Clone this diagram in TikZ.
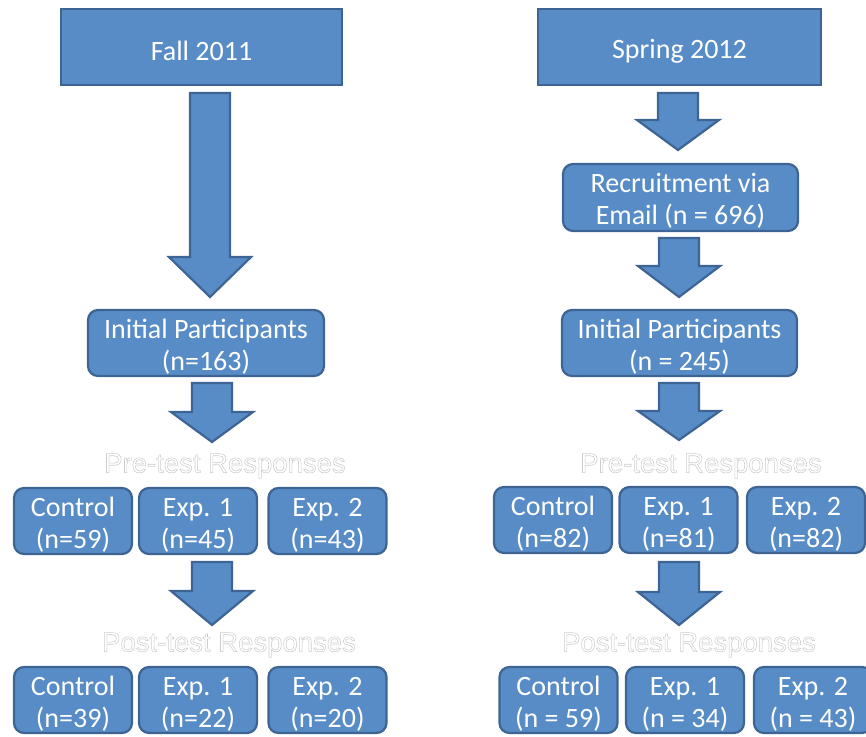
\documentclass[tikz,border=0pt]{standalone}
\usepackage{fontspec}
\setmainfont{Carlito}
\newfontfamily\labelfont{Liberation Sans}
\definecolor{boxblue}{RGB}{88,140,198}
\definecolor{boxedge}{RGB}{62,100,148}
% white letters with a thin grey outline
\newcommand{\hollowtext}[1]{\special{pdf:literal direct 2 Tr 0.55 w 0.8 0.8 0.8 RG}#1\special{pdf:literal direct 0 Tr}}
% block arrow: centre x, top, neck, tip
\newcommand{\blockarrow}[4]{\draw[arrowbody] (#1-20,#2) -- (#1+20,#2) -- (#1+20,#3) -- (#1+41,#3) -- (#1,#4) -- (#1-41,#3) -- (#1-20,#3) -- cycle;}
\begin{document}
\begin{tikzpicture}[x=1pt,y=-1pt,
  sqbox/.style={draw=boxedge,fill=boxblue,line width=2.2pt,inner sep=0pt,text=white,
    text height=28pt,font=\fontsize{28}{32}\selectfont},
  rbox/.style={sqbox,rounded corners=10pt,align=center,text height=58pt},
  groupbox/.style={rbox,minimum width=118,minimum height=66},
  arrowbody/.style={draw=boxedge,fill=boxblue,line width=2.2pt,line join=miter},
  phase/.style={text=white,font=\labelfont\fontsize{27.5}{30}\selectfont}]
\useasboundingbox (0,0) rectangle (866,736);

% Fall 2011
\node[sqbox,minimum width=281,minimum height=76] (fall) at (201.5,47) {Fall 2011};
\blockarrow{210}{93}{257}{297}
\node[rbox,minimum width=236,minimum height=66] (initL) at (206,343) {Initial Participants\\(n=163)};
\blockarrow{212}{383}{412}{442}
\node[phase] (preL) at (225,466) {\hollowtext{Pre-test Responses}};
\node[groupbox] (conL) at (73,521) {Control\\(n=59)};
\node[groupbox] (expaL) at (198,521) {Exp. 1\\(n=45)};
\node[groupbox] (expbL) at (327.5,521) {Exp. 2\\(n=43)};
\blockarrow{212}{562}{591}{625}
\node[phase] (postL) at (229,645) {\hollowtext{Post-test Responses}};
\node[groupbox] (conL2) at (73,700) {Control\\(n=39)};
\node[groupbox] (expaL2) at (198,700) {Exp. 1\\(n=22)};
\node[groupbox] (expbL2) at (327.5,700) {Exp. 2\\(n=20)};

% Spring 2012
\node[sqbox,minimum width=283,minimum height=76] (spring) at (679.5,47) {Spring 2012};
\blockarrow{678}{93}{120}{150}
\node[rbox,minimum width=235,minimum height=67] (recruit) at (680.5,197.5) {Recruitment via\\Email (n = 696)};
\blockarrow{679}{238}{266}{297}
\node[rbox,minimum width=235,minimum height=66] (initR) at (679.5,343) {Initial Participants\\(n = 245)};
\blockarrow{679}{383}{411}{440}
\node[phase] (preR) at (701,466) {\hollowtext{Pre-test Responses}};
\node[groupbox] (conR) at (553,520) {Control\\(n=82)};
\node[groupbox] (expaR) at (678.5,520) {Exp. 1\\(n=81)};
\node[groupbox] (expbR) at (806,520) {Exp. 2\\(n=82)};
\blockarrow{679}{562}{592}{625}
\node[phase] (postR) at (689,645) {\hollowtext{Post-test Responses}};
\node[groupbox] (conR2) at (558.5,700) {Control\\(n = 59)};
\node[groupbox] (expaR2) at (685,700) {Exp. 1\\(n = 34)};
\node[groupbox] (expbR2) at (813,700) {Exp. 2\\(n = 43)};
\end{tikzpicture}
\end{document}
